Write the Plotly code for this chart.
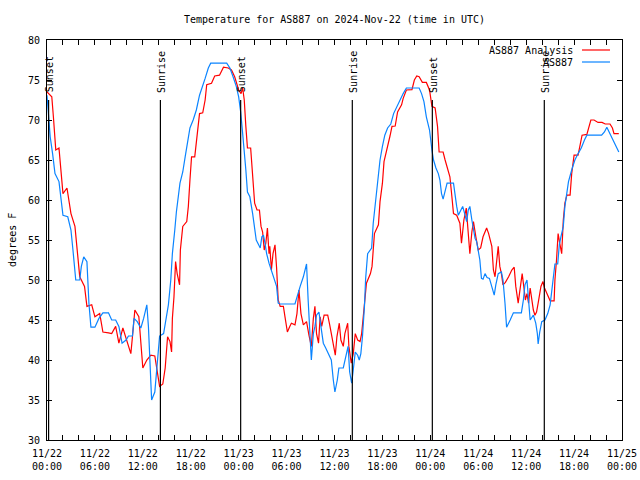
import pandas as pd
import plotly.graph_objects as go

# ---- data (hours since 2024-11-22 00:00 UTC, temperature in F) ----
analysis_hours = [0.0, 0.6, 0.8, 1.1, 1.5, 1.8, 2.0, 2.5, 3.0, 3.5, 3.75, 3.9, 4.1, 4.7, 5.0, 5.6, 6.0, 6.6,
                  7.0, 7.7, 8.1, 8.6, 9.0, 9.5, 10.0, 10.5, 10.7, 11.0, 11.5, 11.8, 12.0, 12.5, 13.0, 13.5,
                  13.8, 14.1, 14.5, 14.8, 15.1, 15.4, 15.6, 15.7, 15.9, 16.1, 16.3, 16.6, 16.7, 17.0, 17.5,
                  17.7, 17.9, 18.1, 18.5, 18.7, 19.1, 19.5, 19.8, 20.0, 20.6, 21.0, 21.6, 22.1, 22.7, 23.1,
                  23.5, 24.0, 24.3, 24.5, 24.7, 24.9, 25.1, 25.5, 25.8, 26.0, 26.3, 26.6, 26.8, 27.0, 27.2,
                  27.4, 27.6, 27.8, 27.9, 28.1, 28.3, 28.55, 28.75, 28.95, 29.2, 29.6, 29.8, 30.1, 30.4,
                  30.6, 31.05, 31.3, 31.55, 31.8, 32.1, 32.5, 32.8, 33.1, 33.35, 33.55, 33.75, 34.0, 34.2,
                  34.4, 34.7, 35.15, 35.4, 35.7, 36.1, 36.3, 36.6, 36.8, 37.1, 37.3, 37.65, 37.8, 38.1,
                  38.35, 38.6, 38.9, 39.2, 39.4, 39.6, 39.8, 40.0, 40.5, 40.7, 41.0, 41.5, 41.7, 42.0, 42.2,
                  42.5, 42.75, 42.95, 43.2, 43.6, 43.9, 44.4, 44.6, 45.0, 45.7, 46.0, 46.3, 46.6, 47.0, 47.5,
                  47.9, 48.2, 48.6, 48.9, 49.1, 49.6, 49.85, 50.1, 50.45, 50.7, 50.9, 51.3, 51.7, 51.9,
                  52.2, 52.5, 52.75, 52.95, 53.2, 53.4, 53.7, 54.0, 54.3, 54.6, 55.05, 55.3, 55.7, 55.9,
                  56.1, 56.3, 56.5, 56.7, 56.9, 57.1, 57.4, 57.8, 58.2, 58.5, 58.7, 59.0, 59.2, 59.5, 59.7,
                  59.9, 60.1, 60.3, 60.5, 60.7, 60.9, 61.1, 61.3, 61.5, 61.85, 62.1, 62.3, 62.6, 63.0, 63.5,
                  63.6, 63.8, 64.0, 64.2, 64.45, 64.65, 64.85, 65.1, 65.5, 65.7, 66.0, 66.5, 66.75, 67.0,
                  67.6, 67.8, 68.1, 68.5, 69.0, 69.5, 69.9, 70.5, 70.8, 71.0, 71.6]
analysis_temp = [73.5, 72.9, 70.4, 66.25, 66.5, 63.3, 60.8, 61.5, 58.3, 56.7, 54.2, 52.0, 50.4, 49.2, 46.7, 46.9,
                 45.4, 45.8, 43.5, 43.4, 43.3, 44.2, 42.1, 44.0, 42.3, 40.8, 42.9, 46.25, 45.4, 41.7, 39.0,
                 40.0, 40.6, 40.5, 38.3, 36.7, 37.0, 39.0, 42.9, 42.3, 41.0, 45.2, 47.9, 52.3, 50.8, 49.4,
                 53.75, 56.7, 57.3, 59.2, 62.5, 65.4, 65.4, 67.5, 70.8, 70.9, 72.5, 74.4, 74.6, 75.5, 75.6,
                 76.6, 76.5, 76.25, 75.4, 73.75, 73.3, 74.0, 72.5, 69.2, 66.5, 66.5, 62.9, 59.6, 58.75,
                 58.75, 56.7, 56.0, 53.75, 54.6, 56.5, 53.3, 54.2, 51.25, 53.3, 54.4, 51.5, 47.5, 46.7,
                 46.7, 45.4, 43.5, 44.2, 44.6, 44.4, 45.8, 48.75, 45.8, 44.4, 44.8, 43.1, 41.7, 45.2, 46.7,
                 43.3, 42.1, 45.4, 44.2, 45.6, 45.6, 44.4, 42.9, 40.6, 42.9, 44.6, 42.5, 41.7, 43.3, 44.6,
                 41.7, 39.6, 40.8, 43.3, 42.5, 42.3, 43.3, 45.4, 47.7, 49.6, 50.8, 51.7, 55.8, 56.9, 59.8,
                 62.1, 64.8, 66.25, 67.5, 68.0, 69.2, 69.25, 71.0, 71.9, 72.7, 73.75, 73.8, 75.0, 75.5,
                 75.4, 74.7, 74.7, 73.75, 71.7, 71.5, 69.2, 66.0, 66.0, 65.0, 64.0, 62.9, 60.4, 58.3, 58.1,
                 57.1, 54.6, 57.5, 59.0, 56.25, 53.3, 56.0, 57.3, 55.4, 53.75, 54.0, 55.4, 56.5, 55.8, 54.2,
                 51.25, 50.4, 52.5, 54.2, 51.7, 50.8, 49.4, 49.7, 50.4, 51.25, 51.6, 49.2, 47.1, 48.75,
                 50.8, 49.2, 47.5, 48.3, 47.1, 49.0, 47.5, 46.25, 45.6, 46.0, 47.1, 49.2, 49.8, 49.0, 48.3,
                 47.4, 47.4, 50.0, 52.5, 55.8, 54.6, 53.3, 57.5, 59.6, 60.6, 60.6, 63.3, 65.6, 65.6, 66.7,
                 68.1, 68.2, 69.0, 70.0, 70.0, 69.7, 69.7, 69.5, 69.5, 69.0, 68.3, 68.3]

station_hours = [0.0, 0.2, 0.4, 0.7, 1.0, 1.5, 1.75, 2.0, 2.6, 3.0, 3.25, 3.5, 3.6, 4.1, 4.3, 4.6, 5.0, 5.25,
                 5.5, 6.0, 6.5, 7.0, 7.7, 8.1, 8.6, 9.0, 9.4, 9.9, 10.2, 10.7, 10.9, 11.3, 11.75, 12.1,
                 12.5, 12.7, 12.9, 13.1, 13.5, 13.8, 14.0, 14.1, 14.6, 14.8, 15.2, 15.5, 15.7, 16.0, 16.2,
                 16.65, 17.0, 17.3, 17.6, 17.9, 18.3, 18.7, 19.1, 19.5, 19.8, 20.2, 20.5, 22.5, 22.9, 23.3,
                 23.7, 24.0, 24.25, 24.5, 24.7, 24.9, 25.1, 25.4, 25.75, 26.0, 26.2, 26.5, 26.7, 26.9,
                 27.1, 27.3, 27.5, 27.8, 28.1, 28.4, 28.75, 28.95, 29.2, 31.05, 31.4, 31.7, 32.1, 32.5,
                 32.7, 32.9, 33.1, 33.35, 33.55, 33.75, 34.05, 34.3, 34.6, 34.9, 35.2, 35.6, 35.85, 36.05,
                 36.35, 36.55, 37.1, 37.4, 37.7, 37.9, 38.15, 38.35, 38.6, 38.9, 39.1, 39.3, 39.5, 39.75,
                 39.9, 40.15, 40.65, 40.85, 41.1, 41.4, 41.7, 42.0, 42.3, 42.65, 43.05, 43.4, 43.8, 44.2,
                 44.6, 45.0, 46.6, 46.9, 47.2, 47.5, 47.9, 48.2, 48.4, 48.7, 49.0, 49.2, 49.4, 49.6, 49.8,
                 50.1, 50.9, 51.1, 51.3, 51.5, 51.7, 52.05, 52.35, 52.55, 52.75, 52.95, 53.2, 53.4, 53.6,
                 53.8, 54.0, 54.2, 54.4, 54.6, 54.85, 55.1, 55.4, 55.7, 56.0, 56.2, 56.5, 56.9, 57.1,
                 57.35, 57.55, 58.0, 58.4, 59.4, 59.65, 59.85, 60.1, 60.3, 60.5, 60.9, 61.2, 61.4, 61.5,
                 61.7, 61.95, 62.35, 62.7, 63.0, 63.2, 63.4, 63.6, 63.95, 64.15, 64.35, 64.65, 64.85, 65.1,
                 65.3, 65.7, 66.1, 66.5, 66.9, 67.3, 67.6, 69.45, 69.8, 70.1, 70.5, 70.9, 71.3, 71.6]
station_temp = [73.1, 70.8, 67.9, 65.8, 63.3, 62.3, 60.4, 58.1, 57.9, 56.25, 53.75, 50.8, 50.0, 50.0, 51.7,
                52.9, 52.3, 47.1, 44.1, 44.1, 45.2, 45.9, 45.9, 45.0, 45.0, 44.2, 42.1, 42.5, 43.0, 43.0,
                45.2, 44.8, 44.0, 45.2, 46.9, 44.2, 40.2, 35.0, 36.0, 39.2, 42.3, 43.0, 43.3, 44.6, 46.9,
                50.0, 53.3, 56.25, 58.5, 62.1, 63.5, 65.4, 67.1, 69.0, 70.0, 71.25, 73.1, 74.2, 75.2, 76.5,
                77.1, 77.1, 76.5, 75.4, 74.2, 72.9, 71.0, 68.3, 66.25, 63.75, 61.0, 60.4, 58.3, 56.25,
                55.0, 54.4, 54.0, 55.4, 55.6, 54.6, 53.3, 52.1, 51.2, 50.5, 49.2, 47.1, 47.0, 47.0, 48.3,
                49.2, 50.4, 52.0, 47.5, 43.75, 40.0, 43.3, 44.2, 45.6, 46.0, 44.2, 42.1, 41.5, 40.8, 40.0,
                37.5, 36.0, 37.5, 39.0, 39.0, 40.4, 41.7, 38.5, 37.1, 38.75, 41.0, 40.6, 40.0, 40.8, 42.9,
                46.7, 50.2, 53.3, 54.0, 57.1, 59.4, 62.9, 65.0, 66.7, 68.1, 69.0, 69.5, 70.8, 71.7, 72.5,
                73.3, 74.0, 74.0, 73.3, 72.3, 70.4, 68.75, 66.25, 65.0, 64.0, 63.3, 62.5, 60.8, 60.1, 61.0,
                62.1, 62.1, 60.4, 59.2, 58.1, 58.5, 59.2, 58.1, 57.3, 58.75, 59.2, 57.5, 56.0, 55.2, 54.8,
                53.5, 52.5, 50.2, 50.1, 50.8, 50.3, 50.2, 49.2, 48.1, 49.4, 50.8, 51.0, 50.0, 47.1, 44.1,
                45.0, 45.9, 45.9, 47.5, 49.4, 50.0, 47.5, 45.0, 45.6, 44.6, 43.3, 42.0, 43.5, 44.8, 45.0,
                45.8, 46.9, 48.75, 50.4, 52.0, 52.0, 54.4, 55.4, 56.7, 59.2, 61.25, 62.3, 63.75, 65.0,
                65.8, 66.5, 67.5, 68.1, 68.1, 68.5, 69.1, 68.3, 67.5, 66.7, 66.0]

sun_labels = ["Sunset", "Sunrise", "Sunset", "Sunrise", "Sunset", "Sunrise"]
sun_hours = [0.2, 14.2, 24.25, 38.23, 48.25, 62.27]

series_names = ["AS887 Analysis", "AS887"]
series_colors = ["#ff0000", "#0a84ff"]

x_tick_hours = [0, 6, 12, 18, 24, 30, 36, 42, 48, 54, 60, 66, 72]
x_tick_labels = ["11/22<br>00:00", "11/22<br>06:00", "11/22<br>12:00", "11/22<br>18:00",
                 "11/23<br>00:00", "11/23<br>06:00", "11/23<br>12:00", "11/23<br>18:00",
                 "11/24<br>00:00", "11/24<br>06:00", "11/24<br>12:00", "11/24<br>18:00",
                 "11/25<br>00:00"]
y_ticks = [30, 35, 40, 45, 50, 55, 60, 65, 70, 75, 80]

title_text = "Temperature for AS887 on 2024-Nov-22 (time in UTC)"
y_title = "degrees F"

# ---- build ----
base = pd.Timestamp("2024-11-22 00:00")
to_t = lambda hrs: [base + pd.Timedelta(hours=h) for h in hrs]

FONT = "DejaVu Sans Mono"
fig = go.Figure()
fig.add_trace(go.Scatter(x=to_t(analysis_hours), y=analysis_temp, mode="lines",
                         line=dict(color=series_colors[0], width=1.2), name=series_names[0]))
fig.add_trace(go.Scatter(x=to_t(station_hours), y=station_temp, mode="lines",
                         line=dict(color=series_colors[1], width=1.2), name=series_names[1]))

for lab, t in zip(sun_labels, to_t(sun_hours)):
    fig.add_shape(type="line", x0=t, x1=t, y0=30, y1=72.5, xref="x", yref="y",
                  line=dict(color="black", width=1.2))
    fig.add_annotation(x=t, y=73.3, xref="x", yref="y", text=lab, textangle=-90,
                       showarrow=False, xanchor="center", yanchor="bottom", xshift=1,
                       font=dict(family=FONT, size=10, color="black"), borderpad=0)

# gnuplot-style key: text then sample line
for i, (nm, col) in enumerate(zip(series_names, series_colors)):
    yp = 0.975 - i * 0.03
    fig.add_annotation(x=0.9165, y=yp, xref="paper", yref="paper", text=nm, showarrow=False,
                       xanchor="right", yanchor="middle", borderpad=0,
                       font=dict(family=FONT, size=10, color="black"))
    fig.add_shape(type="line", x0=0.9304, x1=0.9791, y0=yp, y1=yp, xref="paper", yref="paper",
                  line=dict(color=col, width=1.2))

fig.add_annotation(x=-0.061, y=0.5, xref="paper", yref="paper", text=y_title, textangle=-90,
                   showarrow=False, xanchor="center", yanchor="middle",
                   font=dict(family=FONT, size=10, color="black"))

fig.update_layout(
    width=640, height=480,
    margin=dict(l=47, r=18, t=40, b=40, autoexpand=False),
    paper_bgcolor="white", plot_bgcolor="white",
    showlegend=False,
    font=dict(family=FONT, size=10, color="black"),
    title=dict(text=title_text, x=0.5, xref="paper", xanchor="center",
               y=1 - 19 / 480, yref="container", yanchor="middle",
               font=dict(family=FONT, size=10, color="black")),
)
fig.update_xaxes(range=[base, base + pd.Timedelta(hours=72)], tickvals=to_t(x_tick_hours),
                 ticktext=x_tick_labels, ticks="inside", ticklen=5, tickcolor="black",
                 ticklabelstandoff=4, automargin=False,
                 showline=True, linecolor="black", linewidth=1, mirror="allticks",
                 showgrid=False, zeroline=False,
                 minor=dict(ticks="inside", ticklen=5, dtick=2 * 3600 * 1000, tickcolor="black",
                            showgrid=False))
fig.update_yaxes(range=[30, 80], tickvals=y_ticks, ticks="inside", ticklen=5, tickcolor="black",
                 ticklabelstandoff=4, automargin=False,
                 showline=True, linecolor="black", linewidth=1, mirror="allticks",
                 showgrid=False, zeroline=False)

fig.write_html("out.html", config={"displayModeBar": False},
               post_script="document.body.style.margin='0';document.body.style.overflow='hidden';")
